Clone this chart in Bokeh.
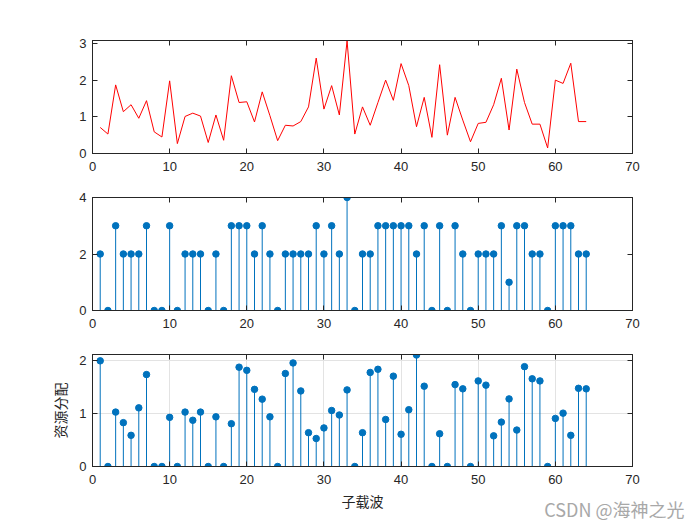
from bokeh.plotting import figure
from bokeh.layouts import column
from bokeh.models import LinearAxis, FixedTicker, Range1d, Title
from bokeh.embed import file_html
from bokeh.resources import INLINE

subcarrier = list(range(1, 65))

channel_gain = [0.71, 0.53, 1.87, 1.14, 1.33, 0.96, 1.44, 0.59, 0.45, 1.98,
                0.27, 1.01, 1.10, 1.02, 0.30, 1.05, 0.36, 2.12, 1.39, 1.41,
                0.86, 1.68, 1.03, 0.35, 0.77, 0.75, 0.87, 1.27, 2.60, 1.21,
                1.85, 1.05, 3.07, 0.53, 1.27, 0.77, 1.39, 2.00, 1.45, 2.45,
                1.85, 0.73, 1.53, 0.44, 2.42, 0.50, 1.53, 0.91, 0.32, 0.82,
                0.85, 1.33, 2.05, 0.64, 2.30, 1.39, 0.80, 0.80, 0.15, 2.00,
                1.91, 2.46, 0.87, 0.87]

bit_alloc = [2, 0, 3, 2, 2, 2, 3, 0, 0, 3,
             0, 2, 2, 2, 0, 2, 0, 3, 3, 3,
             2, 3, 2, 0, 2, 2, 2, 2, 3, 2,
             3, 2, 4, 0, 2, 2, 3, 3, 3, 3,
             3, 2, 3, 0, 3, 0, 3, 2, 0, 2,
             2, 2, 3, 1, 3, 3, 2, 2, 0, 3,
             3, 3, 2, 2]

power_alloc = [2.00, 0, 1.03, 0.83, 0.59, 1.11, 1.74, 0, 0, 0.93,
               0, 1.03, 0.875, 1.03, 0, 0.94, 0, 0.81, 1.88, 1.82,
               1.46, 1.275, 0.94, 0, 1.76, 1.96, 1.43, 0.64, 0.53, 0.73,
               1.06, 0.975, 1.45, 0, 0.64, 1.78, 1.84, 0.89, 1.71, 0.61,
               1.075, 2.11, 1.52, 0, 0.62, 0, 1.55, 1.47, 0, 1.62,
               1.54, 0.58, 0.84, 1.28, 0.69, 1.89, 1.66, 1.62, 0, 0.91,
               1.01, 0.59, 1.48, 1.47]

x_ticks = [0, 10, 20, 30, 40, 50, 60, 70]
y_ticks_top = [0, 1, 2, 3]
y_ticks_mid = [0, 2, 4]
y_ticks_bot = [0, 1, 2]

x_label = "子载波"
y_label = "资源分配"
watermark = "CSDN @海神之光"

AX = "#262626"
BLUE = "#0072BD"
TICK_FONT = "Liberation Sans"
CJK_FONT = "Noto Sans CJK SC"


def make_fig(frame_h, top, bottom, y_end, y_ticks, grid=False):
    p = figure(frame_width=540, frame_height=frame_h,
               min_border_left=92, min_border_right=68,
               min_border_top=top, min_border_bottom=bottom,
               x_range=Range1d(0, 70), y_range=Range1d(0, y_end),
               output_backend="svg", toolbar_location=None,
               background_fill_color="white", border_fill_color="white")
    p.outline_line_color = AX
    p.outline_line_width = 1
    p.below[0].ticker = FixedTicker(ticks=x_ticks)
    p.left[0].ticker = FixedTicker(ticks=y_ticks)
    top_ax = LinearAxis(ticker=FixedTicker(ticks=x_ticks))
    right_ax = LinearAxis(ticker=FixedTicker(ticks=y_ticks))
    p.add_layout(top_ax, "above")
    p.add_layout(right_ax, "right")
    for ax in (p.below[0], p.left[0], top_ax, right_ax):
        ax.axis_line_color = AX
        ax.major_tick_line_color = AX
        ax.major_tick_in = 5
        ax.major_tick_out = 0
        ax.minor_tick_line_color = None
        ax.major_label_text_font = TICK_FONT
        ax.major_label_text_font_size = "13px"
        ax.major_label_text_color = AX
        ax.major_label_standoff = 6
    for ax in (top_ax, right_ax):
        ax.major_label_text_color = None
        ax.major_label_standoff = 0
    p.below[0].major_label_standoff = 8
    if grid:
        p.xgrid.grid_line_color = "#e3e3e3"
        p.ygrid.grid_line_color = "#e3e3e3"
        p.xgrid.ticker = FixedTicker(ticks=x_ticks)
        p.ygrid.ticker = FixedTicker(ticks=y_ticks)
    else:
        p.xgrid.grid_line_color = None
        p.ygrid.grid_line_color = None
    return p


p1 = make_fig(113, 40, 22, max(channel_gain) + 0.01, y_ticks_top)
p1.line(subcarrier, channel_gain, line_color="#FF0000", line_width=1)

p2 = make_fig(113, 22, 22, 4, y_ticks_mid)
p2.segment(x0=subcarrier, y0=[0] * 64, x1=subcarrier, y1=bit_alloc,
           line_color=BLUE, line_width=1)
p2.scatter(subcarrier, bit_alloc, size=6.5, fill_color=BLUE, line_color=BLUE)

p3 = make_fig(112, 22, 59, max(power_alloc) + 0.01, y_ticks_bot, grid=True)
p3.segment(x0=subcarrier, y0=[0] * 64, x1=subcarrier, y1=power_alloc,
           line_color=BLUE, line_width=1)
p3.scatter(subcarrier, power_alloc, size=6.5, fill_color=BLUE, line_color=BLUE)
xa = p3.below[0]
ya = p3.left[0]
xa.axis_label = x_label
ya.axis_label = y_label
for ax in (xa, ya):
    ax.axis_label_text_font = CJK_FONT
    ax.axis_label_text_font_size = "14px"
    ax.axis_label_text_font_style = "normal"
    ax.axis_label_text_color = AX
xa.axis_label_standoff = 4
ya.axis_label_standoff = 6

# watermark in the panel below the bottom axes
p3.add_layout(Title(text=watermark, align="right", offset=-52, standoff=-36,
                    vertical_align="top",
                    text_color="#a8a8a8", text_font=CJK_FONT,
                    text_font_size="18px", text_font_style="normal"), "below")

layout = column(p1, p2, p3, spacing=0)
open("out.html", "w").write(file_html(layout, INLINE))
